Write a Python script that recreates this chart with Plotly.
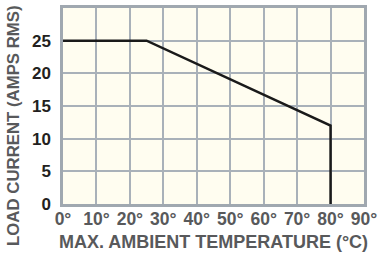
import plotly.graph_objects as go

temps = [0, 25, 80, 80]
current = [25, 25, 12, 0]

x_ticks = [0, 10, 20, 30, 40, 50, 60, 70, 80, 90]
x_labels = ["0°", "10°", "20°", "30°", "40°", "50°", "60°", "70°", "80°", "90°"]
y_ticks = [0, 5, 10, 15, 20, 25]
y_labels = ["0", "5", "10", "15", "20", "25"]
x_title = "MAX. AMBIENT TEMPERATURE (°C)"
y_title = "LOAD CURRENT (AMPS RMS)"

fig = go.Figure()
fig.add_trace(go.Scatter(x=temps, y=current, mode="lines",
                         line=dict(color="#1a1a1a", width=2.5),
                         hoverinfo="skip", showlegend=False))

fontfam = "Liberation Sans, Arial, sans-serif"
fig.update_layout(
    width=386, height=257,
    margin=dict(l=63, r=22, t=8, b=53),
    paper_bgcolor="white",
    plot_bgcolor="#FFFDF0",
    font=dict(family=fontfam),
)
fig.update_xaxes(
    range=[0, 90], tickvals=x_ticks, ticktext=x_labels,
    automargin=False,
    showgrid=True, gridcolor="#A9B1B9", gridwidth=1.5,
    showline=True, linecolor="#A0A8B0", linewidth=2.5, mirror=True,
    zeroline=False, ticks="",
    tickfont=dict(family=fontfam, size=17.5, color="#58595B", weight="bold"),
    ticklabelstandoff=-3,
    title=dict(text="<b>" + x_title + "</b>",
               font=dict(family=fontfam, size=18, color="#58595B"), standoff=8),
)
fig.update_yaxes(
    range=[0, 30], tickvals=y_ticks + [30], ticktext=y_labels + [""],
    automargin=False,
    showgrid=True, gridcolor="#A9B1B9", gridwidth=1.5,
    showline=True, linecolor="#A0A8B0", linewidth=2.5, mirror=True,
    zeroline=False, ticks="",
    tickfont=dict(family=fontfam, size=17, color="#231F20", weight="bold"),
    ticklabelstandoff=6,
)
fig.add_annotation(
    text="<b>" + y_title + "</b>", textangle=-90,
    xref="paper", yref="paper", x=-0.165, y=0.40,
    xanchor="center", yanchor="middle", showarrow=False,
    font=dict(family=fontfam, size=16.8, color="#58595B"),
)

fig.write_html("out.html", config={"displayModeBar": False},
               post_script="document.body.style.margin='0';document.body.style.overflow='hidden';")
